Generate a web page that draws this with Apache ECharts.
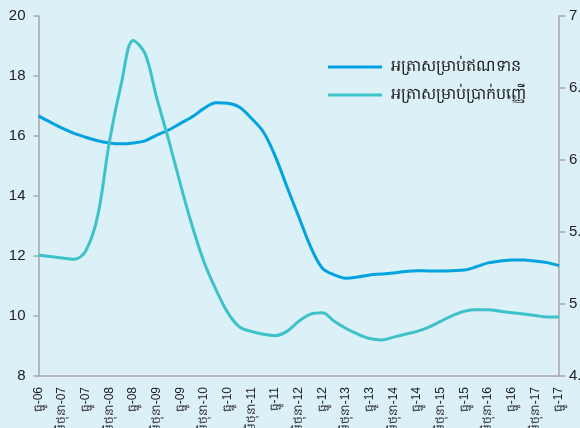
<!DOCTYPE html>
<html>
<head>
<meta charset="utf-8">
<script src="https://cdn.jsdelivr.net/npm/echarts@6/dist/echarts.min.js"></script>
<style>
html,body{margin:0;padding:0;background:#dcf0f8;}
#c{width:580px;height:428px;}
</style>
</head>
<body>
<div id="c"></div>
<script>
var categories = [
  'ធ្នូ-06','មីនា-07','មិថុនា-07','កញ្ញា-07',
  'ធ្នូ-07','មីនា-08','មិថុនា-08','កញ្ញា-08',
  'ធ្នូ-08','មីនា-09','មិថុនា-09','កញ្ញា-09',
  'ធ្នូ-09','មីនា-10','មិថុនា-10','កញ្ញា-10',
  'ធ្នូ-10','មីនា-11','មិថុនា-11','កញ្ញា-11',
  'ធ្នូ-11','មីនា-12','មិថុនា-12','កញ្ញា-12',
  'ធ្នូ-12','មីនា-13','មិថុនា-13','កញ្ញា-13',
  'ធ្នូ-13','មីនា-14','មិថុនា-14','កញ្ញា-14',
  'ធ្នូ-14','មីនា-15','មិថុនា-15','កញ្ញា-15',
  'ធ្នូ-15','មីនា-16','មិថុនា-16','កញ្ញា-16',
  'ធ្នូ-16','មីនា-17','មិថុនា-17','កញ្ញា-17',
  'ធ្នូ-17'
];
var seriesNames = ['អត្រាសម្រាប់ឥណទាន', 'អត្រាសម្រាប់ប្រាក់បញ្ញើ'];
// lending rate (left axis)
var lendingRate = [
  16.67,16.46,16.26,16.09,15.96,15.84,15.77,15.74,15.77,15.84,
  16.03,16.20,16.42,16.64,16.92,17.11,17.09,16.96,16.59,16.14,
  15.34,14.31,13.31,12.31,11.59,11.37,11.26,11.30,11.37,11.40,
  11.43,11.48,11.51,11.50,11.50,11.51,11.53,11.64,11.77,11.83,
  11.87,11.87,11.83,11.78,11.68
];
// deposit rate (right axis)
var depositRate = [
  5.34,5.33,5.32,5.31,5.37,5.61,6.13,6.53,6.83,6.74,
  6.43,6.14,5.83,5.54,5.29,5.10,4.94,4.84,4.81,4.79,
  4.78,4.81,4.88,4.93,4.94,4.88,4.83,4.79,4.76,4.75,
  4.77,4.79,4.81,4.84,4.88,4.92,4.95,4.96,4.96,4.95,
  4.94,4.93,4.92,4.91,4.91
];
var leftAxis = {min: 8, max: 20, interval: 2};
var rightAxis = {min: 4.5, max: 7, interval: 0.5};

var chart = echarts.init(document.getElementById('c'), null, {renderer: 'canvas'});
var font = 'Liberation Sans, Arial, sans-serif';
chart.setOption({
  backgroundColor: '#dcf0f8',
  animation: false,
  grid: {left: 38.5, right: 21, top: 16, bottom: 52, containLabel: false, outerBoundsMode: 'none'},
  legend: {
    orient: 'vertical',
    left: 323,
    top: 52,
    itemWidth: 54,
    itemHeight: 3,
    itemGap: 8,
    icon: 'rect',
    textStyle: {fontFamily: font, fontSize: 16, color: '#222', lineHeight: 20, padding: [0,0,0,4]},
    data: seriesNames
  },
  xAxis: {
    type: 'category',
    data: categories,
    boundaryGap: false,
    axisLine: {lineStyle: {color: '#a6a6a6', width: 1.5}},
    axisTick: {show: false},
    axisLabel: {interval: 1, rotate: 90, margin: 11, fontFamily: font, fontSize: 12, color: '#222', padding: [0,0,10,0]}
  },
  yAxis: [{
    type: 'value',
    min: leftAxis.min, max: leftAxis.max, interval: leftAxis.interval,
    splitLine: {show: false},
    axisLine: {show: true, lineStyle: {color: '#a6a6a6', width: 1.5}},
    axisTick: {show: true, length: 5, lineStyle: {color: '#a6a6a6', width: 1.5}},
    axisLabel: {margin: 13, fontFamily: font, fontSize: 15, color: '#222'}
  }, {
    type: 'value',
    min: rightAxis.min, max: rightAxis.max, interval: rightAxis.interval,
    position: 'right',
    splitLine: {show: false},
    axisLine: {show: true, lineStyle: {color: '#a6a6a6', width: 1.5}},
    axisTick: {show: true, length: 6, lineStyle: {color: '#a6a6a6', width: 1.5}},
    axisLabel: {margin: 10, fontFamily: font, fontSize: 15, color: '#222'}
  }],
  series: [{
    name: seriesNames[0],
    type: 'line',
    yAxisIndex: 0,
    data: lendingRate,
    smooth: 0.35,
    showSymbol: false,
    lineStyle: {color: '#00a3e0', width: 3},
    itemStyle: {color: '#00a3e0'}
  }, {
    name: seriesNames[1],
    type: 'line',
    yAxisIndex: 1,
    data: depositRate,
    smooth: 0.35,
    showSymbol: false,
    lineStyle: {color: '#3ec2ca', width: 3},
    itemStyle: {color: '#3ec2ca'}
  }]
});
</script>
</body>
</html>
